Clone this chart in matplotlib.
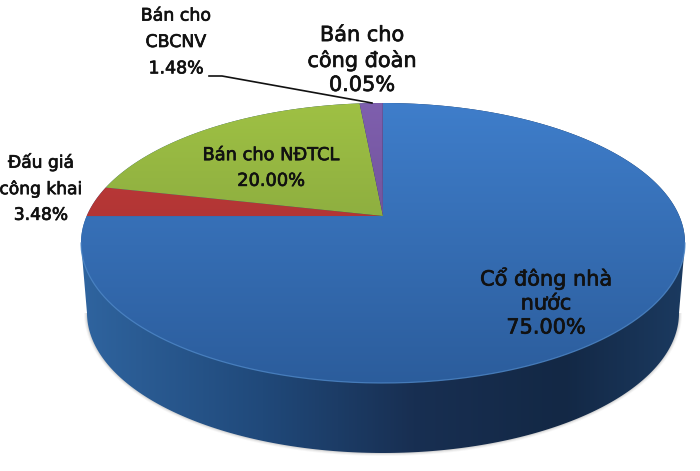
import numpy as np
import matplotlib
matplotlib.use("Agg")
import matplotlib.pyplot as plt
import matplotlib.patheffects as pe
from matplotlib.patches import Polygon
from matplotlib.colors import LinearSegmentedColormap as LSC

names = ["Cổ đông nhà\nnước", "Đấu giá\ncông khai", "Bán cho NĐTCL", "Bán cho\nCBCNV", "Bán cho\ncông đoàn"]
values = [75.00, 3.48, 20.00, 1.48, 0.05]
top_colors = [("#3f7ecb", "#2b5c9b"), ("#c93c3b", "#8f2c2c"), ("#9fc144", "#76943a"), ("#7f5fae", "#5f4683"), ("#7f5fae", "#5f4683")]
side_stops = [(0.0, "#2f649f"), (0.3, "#20497a"), (0.55, "#182f52"), (0.8, "#132845"), (1.0, "#1b3a60")]
label_xy = [(546, 302), (41, 188), (271, 168), (176, 42), (362, 60)]
label_size = [15, 12.3, 12.8, 12.5, 15]
label_sp = [1.25, 1.55, 1.55, 1.6, 1.25]

cx, cy, rx, ry = 383, 243, 302, 140
ax0, ay0 = 383, 216
bcy, brx, bry = 313, 296, 140

fig = plt.figure(figsize=(7, 4.71), dpi=100)
ax = fig.add_axes([0, 0, 1, 1])
ax.set_xlim(0, 700)
ax.set_ylim(471, 0)
ax.axis("off")

def edge_point(theta):
    dx, dy = np.sin(theta) * rx, -np.cos(theta) * ry
    a = (dx / rx) ** 2 + (dy / ry) ** 2
    b = 2 * ((ax0 - cx) * dx / rx ** 2 + (ay0 - cy) * dy / ry ** 2)
    c = ((ax0 - cx) / rx) ** 2 + ((ay0 - cy) / ry) ** 2 - 1
    t = (-b + np.sqrt(b * b - 4 * a * c)) / (2 * a)
    return ax0 + t * dx, ay0 + t * dy

def gradient(clip, colors, extent, horizontal=False, z=2):
    cmap = LSC.from_list("g", colors)
    g = np.linspace(0, 1, 256)
    g = g[None, :] if horizontal else g[:, None]
    im = ax.imshow(g, cmap=cmap, extent=extent, aspect="auto", zorder=z, interpolation="bilinear")
    im.set_clip_path(clip)

# soft shadow and extruded side
tt = np.linspace(0, np.pi, 200)
tu = np.linspace(np.pi, 2 * np.pi, 200)
for grow, alpha in [(3, 0.05), (2, 0.08), (1, 0.12)]:
    ax.add_patch(Polygon(np.c_[cx + (brx + grow) * np.cos(tt), bcy + (bry + grow) * np.sin(tt)], closed=True,
                         fc="#555555", ec="none", alpha=alpha, zorder=1))
side_pts = np.r_[np.c_[cx + rx * np.cos(tu), cy + ry * np.sin(tu)],
                 np.c_[cx + brx * np.cos(tt), bcy + bry * np.sin(tt)]]
side = Polygon(side_pts, closed=True, fc="none", ec="none", zorder=2)
ax.add_patch(side)
gradient(side, side_stops, (cx - rx, cx + rx, 471, 0), horizontal=True)

# top face
total = sum(values)
fracs = np.cumsum([0] + values) / total
for i in range(len(values)):
    th = np.linspace(fracs[i], fracs[i + 1], 300) * 2 * np.pi
    pts = np.array([edge_point(t) for t in th])
    poly = Polygon(np.r_[[[ax0, ay0]], pts], closed=True, fc="none", ec="none", zorder=3)
    ax.add_patch(poly)
    gradient(poly, top_colors[i], (cx - rx, cx + rx, 390, 100), z=3)

# rim highlight on the front edge
th = np.linspace(0, np.pi, 200)
ax.plot(cx + rx * np.cos(th), cy + ry * np.sin(th), color="#4f88c8", lw=0.9, alpha=0.8, zorder=4)

# labels
for name, v, (x, y), s, sp in zip(names, values, label_xy, label_size, label_sp):
    ax.text(x, y, f"{name}\n{v:.2f}%", ha="center", va="center", fontsize=s, linespacing=sp,
            family="DejaVu Sans", color="#111111", zorder=6,
            path_effects=[pe.withStroke(linewidth=0.5, foreground="#111111")])

# leader line
ax.plot([209, 222, 372], [76, 76, 103], color="#111111", lw=1.2, zorder=5)

fig.savefig("out.png", dpi=100)
